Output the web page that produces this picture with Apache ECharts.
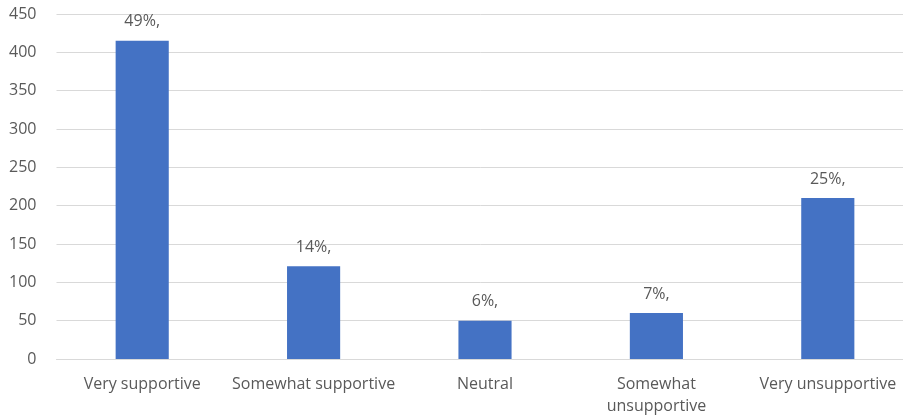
<!DOCTYPE html>
<html>
<head>
<meta charset="utf-8">
<script src="https://cdn.jsdelivr.net/npm/echarts@6/dist/echarts.min.js"></script>
<style>
  html, body { margin: 0; padding: 0; background: #ffffff; }
  #chart { width: 903px; height: 420px; }
</style>
</head>
<body>
<div id="chart"></div>
<script>
// Survey responses: counts per support level
const categories = ['Very supportive', 'Somewhat supportive', 'Neutral', 'Somewhat unsupportive', 'Very unsupportive'];
const counts = [415, 121, 50, 60, 210];
const shareLabels = ['49%,', '14%,', '6%,', '7%,', '25%,'];
const yTicks = { min: 0, max: 450, step: 50 };

// Longer category names wrap onto two lines
const wrapped = { 'Somewhat unsupportive': 'Somewhat\nunsupportive' };

const textColor = '#595959';
const fontFamily = '"Open Sans", "DejaVu Sans", sans-serif';

const chart = echarts.init(document.getElementById('chart'), null, { renderer: 'canvas' });
chart.setOption({
  animation: false,
  backgroundColor: '#ffffff',
  // plot area runs a little past the right edge of the canvas
  grid: { left: 56.5, width: 857, top: 14, bottom: 61, outerBoundsMode: 'none', containLabel: false },
  xAxis: {
    type: 'category',
    data: categories,
    axisLine: { show: true, lineStyle: { color: '#d9d9d9', width: 1 } },
    axisTick: { show: false },
    axisLabel: {
      color: textColor,
      fontFamily: fontFamily,
      fontSize: 16,
      margin: 14,
      lineHeight: 22,
      interval: 0,
      formatter: v => wrapped[v] || v
    }
  },
  yAxis: {
    type: 'value',
    min: yTicks.min,
    max: yTicks.max,
    interval: yTicks.step,
    axisLine: { show: false },
    axisTick: { show: false },
    splitLine: { lineStyle: { color: '#d9d9d9', width: 1 } },
    axisLabel: {
      color: textColor,
      fontFamily: fontFamily,
      fontSize: 16,
      margin: 20
    }
  },
  series: [{
    type: 'bar',
    data: counts,
    barWidth: '31%',
    itemStyle: { color: '#4472c4' },
    label: {
      show: true,
      position: 'top',
      distance: 11,
      color: textColor,
      fontFamily: fontFamily,
      fontSize: 16,
      formatter: p => shareLabels[p.dataIndex]
    }
  }]
});
</script>
</body>
</html>
